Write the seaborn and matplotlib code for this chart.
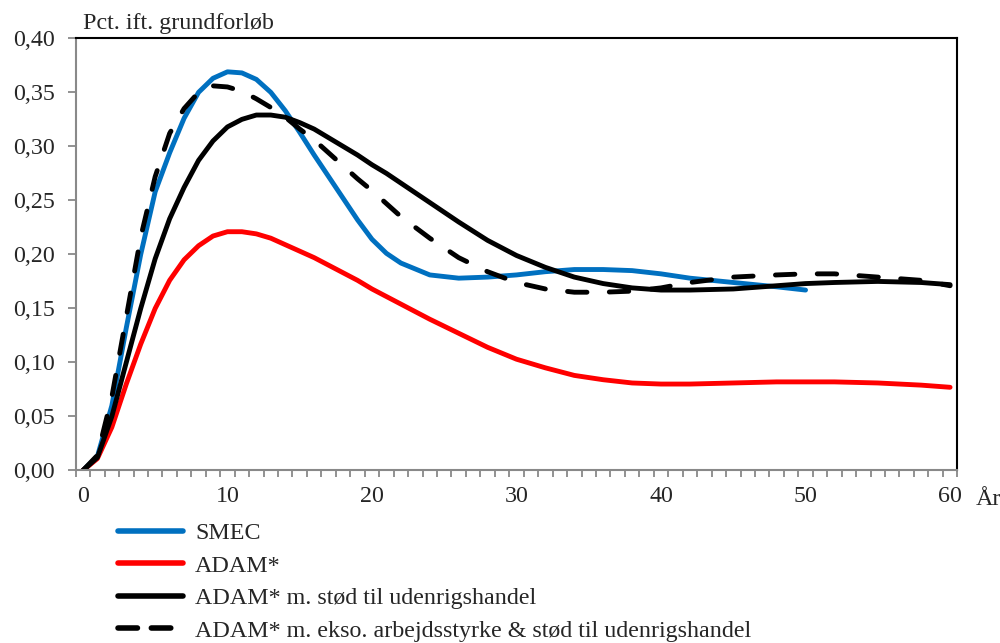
import matplotlib
matplotlib.use("Agg")
import matplotlib.pyplot as plt
import matplotlib.ticker as mticker
import seaborn as sns
import pandas as pd

# ---- data ----
years = list(range(0, 23)) + [24, 26, 28, 30, 32, 34, 36, 38, 40, 42, 45, 48, 50, 52, 55, 58, 60]

smec = [0.000, 0.013, 0.060, 0.132, 0.200, 0.258, 0.294, 0.326, 0.350, 0.363,
        0.369, 0.368, 0.362, 0.350, 0.333, 0.313, 0.292, 0.272, 0.252, 0.232,
        0.214, 0.201, 0.192, 0.181, 0.178, 0.179, 0.181, 0.184, 0.186, 0.186,
        0.185, 0.182, 0.178, 0.174, 0.170, 0.167]

adam = [0.000, 0.011, 0.040, 0.080, 0.117, 0.150, 0.176, 0.195, 0.208, 0.217,
        0.221, 0.221, 0.219, 0.215, 0.209, 0.203, 0.197, 0.190, 0.183, 0.176,
        0.168, 0.161, 0.154, 0.140, 0.127, 0.114, 0.103, 0.095, 0.088, 0.084,
        0.081, 0.080, 0.080, 0.081, 0.082, 0.082, 0.082, 0.081, 0.079, 0.077]

adam_stod = [0.000, 0.012, 0.050, 0.100, 0.150, 0.196, 0.233, 0.262, 0.287, 0.305,
             0.318, 0.325, 0.329, 0.329, 0.327, 0.322, 0.316, 0.308, 0.300, 0.292,
             0.283, 0.275, 0.266, 0.248, 0.230, 0.213, 0.199, 0.188, 0.179, 0.173,
             0.169, 0.167, 0.167, 0.168, 0.171, 0.173, 0.174, 0.175, 0.174, 0.172]

adam_ekso = [0.000, 0.014, 0.068, 0.142, 0.216, 0.272, 0.312, 0.335, 0.350, 0.356,
             0.355, 0.351, 0.344, 0.336, 0.327, 0.316, 0.306, 0.294, 0.282, 0.270,
             0.259, 0.247, 0.235, 0.215, 0.197, 0.184, 0.174, 0.168, 0.165, 0.165,
             0.166, 0.169, 0.174, 0.179, 0.181, 0.182, 0.182, 0.179, 0.176, 0.171]

labels = ["SMEC", "ADAM*", "ADAM* m. stød til udenrigshandel",
          "ADAM* m. ekso. arbejdsstyrke & stød til udenrigshandel"]
series = [smec, adam, adam_stod, adam_ekso]
colors = ["#0070C0", "#FF0000", "#000000", "#000000"]

yticks = [0.00, 0.05, 0.10, 0.15, 0.20, 0.25, 0.30, 0.35, 0.40]
xticks = [0, 10, 20, 30, 40, 50, 60]

# ---- style ----
sns.set_theme(style="white")
plt.rcParams["font.family"] = ["Liberation Serif", "DejaVu Serif"]
plt.rcParams["font.size"] = 17.3

fig = plt.figure(figsize=(10, 6.43), dpi=100)
ax = fig.add_axes([0.0757, 0.2683, 0.9573 - 0.0757, 0.9404 - 0.2683])

for lab, vals, col in zip(labels, series, colors):
    df = pd.DataFrame({"x": years[:len(vals)], "y": vals})
    sns.lineplot(data=df, x="x", y="y", ax=ax, color=col, lw=3.5, label=lab,
                 solid_capstyle="round", solid_joinstyle="round")

dashed = ax.lines[3]
dashed.set_dashes((4.0, 4.6))
dashed.set_dash_capstyle("round")

ax.set_xlim(-0.5, 60.5)
ax.set_ylim(0, 0.40)
ax.set_xlabel("")
ax.set_ylabel("")

ax.yaxis.set_major_locator(mticker.FixedLocator(yticks))
ax.yaxis.set_major_formatter(mticker.FuncFormatter(lambda v, p: f"{v:.2f}".replace(".", ",")))
ax.xaxis.set_major_locator(mticker.FixedLocator(xticks))
ax.xaxis.set_minor_locator(mticker.MultipleLocator(1, offset=0.5))
ax.tick_params(axis="y", which="major", direction="out", length=6, width=1.3,
               color="#898989", pad=9, labelsize=17.3, left=True)
ax.tick_params(axis="x", which="major", length=0, pad=11, labelsize=17.3, bottom=True)
ax.tick_params(axis="x", which="minor", direction="out", length=5, width=1.3,
               color="#898989", bottom=True)

for s in ["left", "bottom"]:
    ax.spines[s].set_color("#898989")
    ax.spines[s].set_linewidth(1.5)
for s in ["top", "right"]:
    ax.spines[s].set_color("black")
    ax.spines[s].set_linewidth(1.5)
    ax.spines[s].set_visible(True)

fig.text(0.083, 1 - 28.5 / 643, "Pct. ift. grundforløb", fontsize=17.3, va="baseline", ha="left")
fig.text(0.976, 1 - 505 / 643, "År", fontsize=17.3, va="baseline", ha="left")

leg = ax.legend(loc="upper left", bbox_to_anchor=(0.118, 0.188), bbox_transform=fig.transFigure,
                frameon=False, fontsize=17.3, handlelength=2.7, handletextpad=0.5,
                labelspacing=0.45, borderpad=0, borderaxespad=0)
for h in leg.get_lines():
    h.set_linewidth(4)
leg.get_lines()[3].set_dashes((3.5, 2.5))

fig.savefig("out.png", dpi=100)
